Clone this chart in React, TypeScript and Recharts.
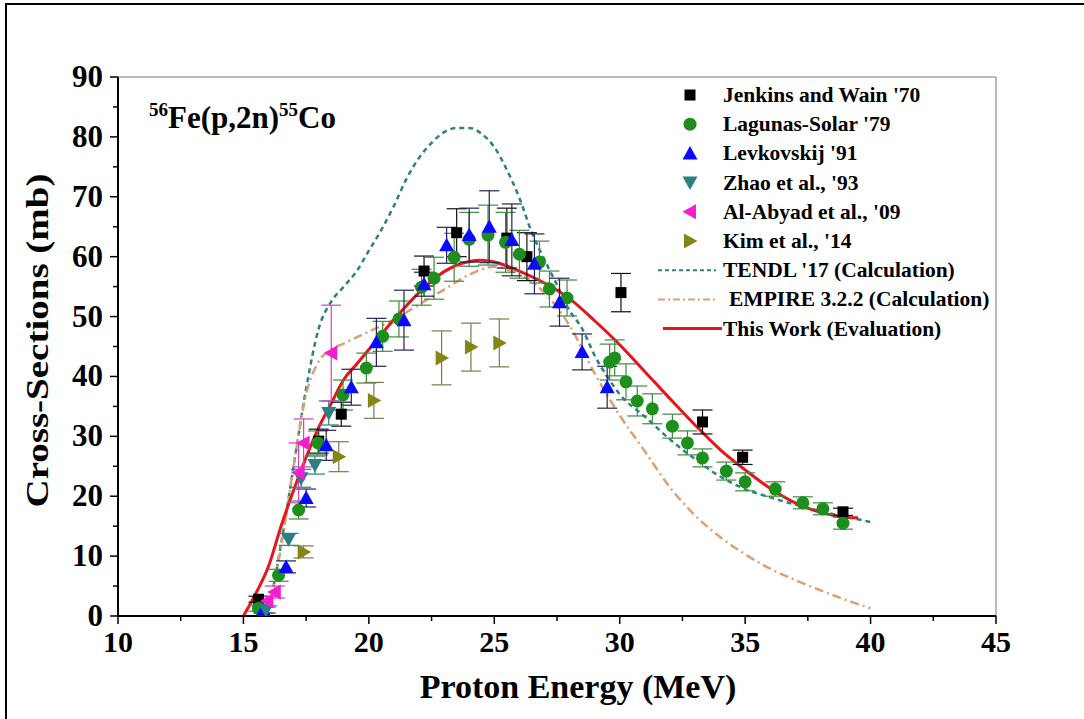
import { ComposedChart, ErrorBar, Line, ReferenceLine, Scatter, XAxis, YAxis } from "recharts";

const SERIF = '"Liberation Serif", "Times New Roman", serif';

// experimental data: proton energy (MeV), cross-section (mb), uncertainty (mb)
const jenkinsE = [15.6, 18.0, 18.9, 22.2, 23.5, 25.5, 26.3, 30.05, 33.3, 34.9, 38.9];
const jenkinsXs = [2.8, 29.2, 33.7, 57.6, 64.0, 63.1, 60.0, 54.0, 32.4, 26.5, 17.4];
const jenkinsErr = [0.5, 2, 2, 2.5, 4, 5, 4, 3.2, 2, 1.2, 0.6];

const lagunasE = [15.6, 16.4, 17.2, 17.97, 18.97, 19.9, 20.55, 21.2, 22.1, 22.6, 23.4, 24.0, 24.75, 25.45, 26.0, 26.8, 27.2, 27.9, 29.6, 29.8, 30.25, 30.7, 31.3, 32.1, 32.7, 33.3, 34.25, 35.0, 36.2, 37.3, 38.1, 38.9];
const lagunasXs = [1.3, 6.8, 17.7, 28.9, 36.9, 41.4, 46.7, 49.6, 54.9, 56.4, 59.9, 62.9, 63.6, 62.4, 60.4, 59.1, 54.6, 53.1, 42.4, 43.1, 39.1, 35.9, 34.6, 31.7, 28.9, 26.4, 24.2, 22.4, 21.2, 18.9, 17.9, 15.5];
const lagunasErr = [0.5, 1, 1.5, 2, 2.5, 2.5, 2.5, 3, 3, 3.5, 4, 4.5, 5, 5, 4, 3.5, 3, 3, 3, 3, 3, 2.5, 2.5, 2, 2, 1.5, 1.5, 1.5, 1.2, 1, 1, 1];

const levkovskijE = [15.8, 16.7, 17.5, 18.3, 19.3, 20.3, 21.4, 22.2, 23.1, 24.0, 24.8, 25.7, 26.6, 27.6, 28.5, 29.5];
const levkovskijXs = [1.0, 8.2, 19.7, 28.5, 38.2, 45.7, 49.4, 55.4, 61.9, 63.6, 65.0, 62.8, 58.8, 52.4, 44.1, 38.2];
const levkovskijErr = [0.5, 1, 1.5, 2.5, 3, 4, 5, 2, 3, 4.5, 6, 6, 5, 4, 3, 3.5];

const zhaoE = [15.9, 16.8, 17.3, 17.85, 18.4];
const zhaoXs = [1.0, 12.8, 23.0, 25.2, 33.9];
const zhaoErr = [0.5, 1, 1.5, 1.5, 2];

const alAbyadE = [15.95, 16.25, 17.2, 17.4, 18.5];
const alAbyadXs = [2.5, 4.0, 23.9, 28.9, 43.9];
const alAbyadErr = [0.8, 1, 5, 4, 8];

const kimE = [17.4, 18.8, 20.2, 22.9, 24.07, 25.2];
const kimXs = [10.7, 26.6, 36.0, 43.1, 44.9, 45.6];
const kimErr = [1, 2.5, 3, 4.5, 4, 4];

// calculations / evaluation
const tendlE = [15.5, 16, 16.5, 17, 17.5, 18, 18.5, 19, 19.5, 20, 20.5, 21, 21.5, 22, 22.5, 23, 23.5, 24, 24.5, 25, 25.5, 26, 26.5, 27, 27.5, 28, 28.5, 29, 29.5, 30, 31, 32, 33, 34, 35, 36, 37, 38, 39, 40];
const tendlXs = [0, 2, 12, 25, 38, 48, 52.5, 55, 57.5, 61, 64.5, 68.5, 73, 76.5, 79, 80.8, 81.5, 81.5, 80.5, 78.3, 74.5, 69.8, 64, 59.5, 55.3, 51, 48, 43.5, 40, 37, 33.3, 29.5, 26.2, 23.3, 21.2, 19.8, 18.6, 17.5, 16.6, 15.7];

const empireE = [15.8, 16.2, 16.6, 17, 17.5, 18, 18.5, 19, 20, 21, 22, 23, 24, 25, 26, 27, 28, 29, 30, 31, 32, 33, 34, 35, 36, 37, 38, 39, 40];
const empireXs = [0, 5, 14, 25, 37, 42.5, 44.5, 45.5, 47.5, 49.5, 52, 54.5, 57, 58.3, 57, 54, 48.5, 40.5, 33.5, 27.5, 21.5, 16.8, 13.2, 10.3, 7.9, 6.0, 4.3, 2.7, 1.3];

const evalE = [15, 15.5, 16, 16.5, 17, 17.5, 18, 18.5, 19, 19.5, 20, 21, 22, 23, 24, 24.5, 25, 26, 27, 28, 29, 30, 31, 32, 33, 34, 35, 36, 37, 38, 39, 39.5];
const evalXs = [0, 3.8, 8.3, 15, 21, 26.5, 31.5, 35.5, 39.5, 42, 44.5, 49.5, 54, 57.5, 59.2, 59.4, 59.1, 57.6, 55.6, 53, 49.3, 45.3, 40.8, 36.3, 31.9, 27.8, 24.4, 21.3, 18.9, 17.3, 16.5, 16.4];

const xTicks = [10, 12.5, 15, 17.5, 20, 22.5, 25, 27.5, 30, 32.5, 35, 37.5, 40, 42.5, 45];
const yTicks = [0, 5, 10, 15, 20, 25, 30, 35, 40, 45, 50, 55, 60, 65, 70, 75, 80, 85, 90];

const toPoints = (xs: number[], ys: number[], errs?: number[]) =>
  xs.map((x, i) => ({ x, y: ys[i], err: errs ? errs[i] : 0 }));

type ShapeProps = { cx?: number; cy?: number; fill?: string };

const squareShape = ({ cx = 0, cy = 0, fill }: ShapeProps) => (
  <rect x={cx - 5.5} y={cy - 5.5} width={11} height={11} fill={fill} />
);
const circleShape = ({ cx = 0, cy = 0, fill }: ShapeProps) => (
  <circle cx={cx} cy={cy} r={6.5} fill={fill} />
);
const triangleShape = (dir: "up" | "down" | "left" | "right") =>
  ({ cx = 0, cy = 0, fill }: ShapeProps) => {
    const s = 7.5;
    let pts = "";
    if (dir === "up") pts = `${cx},${cy - s} ${cx - s},${cy + s * 0.8} ${cx + s},${cy + s * 0.8}`;
    if (dir === "down") pts = `${cx},${cy + s} ${cx - s},${cy - s * 0.8} ${cx + s},${cy - s * 0.8}`;
    if (dir === "left") pts = `${cx - s},${cy} ${cx + s * 0.8},${cy - s} ${cx + s * 0.8},${cy + s}`;
    if (dir === "right") pts = `${cx + s},${cy} ${cx - s * 0.8},${cy - s} ${cx - s * 0.8},${cy + s}`;
    return <polygon points={pts} fill={fill} />;
  };

const series = [
  { name: "Jenkins and Wain '70", data: toPoints(jenkinsE, jenkinsXs, jenkinsErr), color: "#000000", bar: "#111111", shape: squareShape },
  { name: "Lagunas-Solar '79", data: toPoints(lagunasE, lagunasXs, lagunasErr), color: "#1d8f1d", bar: "#3d8a3d", shape: circleShape },
  { name: "Levkovskij '91", data: toPoints(levkovskijE, levkovskijXs, levkovskijErr), color: "#0a0aff", bar: "#22225a", shape: triangleShape("up") },
  { name: "Zhao et al., '93", data: toPoints(zhaoE, zhaoXs, zhaoErr), color: "#2a8080", bar: "#2a8080", shape: triangleShape("down") },
  { name: "Al-Abyad et al., '09", data: toPoints(alAbyadE, alAbyadXs, alAbyadErr), color: "#f21ed0", bar: "#d040c0", shape: triangleShape("left") },
  { name: "Kim et al., '14", data: toPoints(kimE, kimXs, kimErr), color: "#858514", bar: "#7a7a50", shape: triangleShape("right") },
];

const TENDL_COLOR = "#2f8080";
const EMPIRE_COLOR = "#d9a276";
const EVAL_COLOR = "#e8141c";

const XTick = ({ x, y, payload }: any) => {
  const v = payload.value;
  const major = v % 5 === 0;
  return (
    <g>
      <line x1={x} x2={x} y1={y} y2={y + (major ? 8 : 5)} stroke="#000" strokeWidth={1.5} />
      {major && (
        <text x={x} y={y + 36} textAnchor="middle" fontFamily={SERIF} fontWeight="bold" fontSize={30} fill="#000">
          {v}
        </text>
      )}
    </g>
  );
};

const YTick = ({ x, y, payload }: any) => {
  const v = payload.value;
  const major = v % 10 === 0;
  return (
    <g>
      <line x1={x - (major ? 8 : 5)} x2={x} y1={y} y2={y} stroke="#000" strokeWidth={1.5} />
      {major && (
        <text x={x - 15} y={y + 10} textAnchor="end" fontFamily={SERIF} fontWeight="bold" fontSize={31} fill="#000">
          {v}
        </text>
      )}
    </g>
  );
};

const LegendBox = () => {
  const rowY = (i: number) => 95 + i * 29.2;
  return (
    <svg width={360} height={300} style={{ position: "absolute", left: 640, top: 70 }} viewBox="640 70 360 300">
      {series.map((s, i) => (
        <g key={s.name}>
          {s.shape({ cx: 690, cy: rowY(i), fill: s.color })}
          <text x={723} y={rowY(i) + 7} fontFamily={SERIF} fontWeight="bold" fontSize={21.5}>
            {s.name}
          </text>
        </g>
      ))}
      <line x1={658} x2={716} y1={rowY(6)} y2={rowY(6)} stroke={TENDL_COLOR} strokeWidth={2} strokeDasharray="4 3" />
      <text x={723} y={rowY(6) + 7} fontFamily={SERIF} fontWeight="bold" fontSize={21.5}>TENDL '17 (Calculation)</text>
      <line x1={658} x2={716} y1={rowY(7)} y2={rowY(7)} stroke={EMPIRE_COLOR} strokeWidth={2} strokeDasharray="7 3 2 3" />
      <text x={729} y={rowY(7) + 7} fontFamily={SERIF} fontWeight="bold" fontSize={21.5}>EMPIRE 3.2.2 (Calculation)</text>
      <line x1={663} x2={722} y1={rowY(8)} y2={rowY(8)} stroke={EVAL_COLOR} strokeWidth={3} />
      <text x={723} y={rowY(8) + 7} fontFamily={SERIF} fontWeight="bold" fontSize={21.5}>This Work (Evaluation)</text>
    </svg>
  );
};

export default function App() {
  return (
    <div style={{ position: "absolute", left: 0, top: 0, width: 1084, height: 719, overflow: "hidden", background: "#fff" }}>
      <div style={{ position: "absolute", left: 5, top: 3, width: 1200, height: 800, borderLeft: "2px solid #000", borderTop: "2px solid #000" }} />
      <div style={{ position: "absolute", left: 0, top: 0 }}>
        <ComposedChart width={1084} height={719} margin={{ top: 77, right: 88, bottom: 43, left: 58 }}>
          <XAxis
            type="number"
            dataKey="x"
            domain={[10, 45]}
            ticks={xTicks}
            interval={0}
            tickSize={0}
            tickMargin={0}
            tickLine={false}
            height={60}
            axisLine={{ stroke: "#000", strokeWidth: 2 }}
            tick={<XTick />}
            allowDataOverflow
            label={(props: any) => {
              const vb = props.viewBox;
              return (
                <text x={vb.x + vb.width / 2 + 21} y={vb.y + 82} textAnchor="middle" fontFamily={SERIF} fontWeight="bold" fontSize={34}>
                  Proton Energy (MeV)
                </text>
              );
            }}
          />
          <YAxis
            type="number"
            domain={[0, 90]}
            ticks={yTicks}
            interval={0}
            tickSize={0}
            tickMargin={0}
            tickLine={false}
            width={60}
            axisLine={{ stroke: "#000", strokeWidth: 2 }}
            tick={<YTick />}
            allowDataOverflow
            label={(props: any) => {
              const vb = props.viewBox;
              const cx = vb.x - 10;
              const cy = vb.y + vb.height / 2 - 6;
              return (
                <text
                  x={cx}
                  y={cy}
                  transform={`rotate(-90 ${cx} ${cy})`}
                  textAnchor="middle"
                  fontFamily={SERIF}
                  fontWeight="bold"
                  fontSize={32}
                  textLength={334}
                  lengthAdjust="spacingAndGlyphs"
                >
                  Cross-Sections (mb)
                </text>
              );
            }}
          />
          <ReferenceLine y={90} stroke="#777" strokeWidth={1} />
          <ReferenceLine x={45} stroke="#777" strokeWidth={1} />
          <Line
            data={toPoints(tendlE, tendlXs)}
            dataKey="y"
            type="monotone"
            stroke={TENDL_COLOR}
            strokeWidth={2.5}
            strokeDasharray="5 4"
            dot={false}
            activeDot={false}
            isAnimationActive={false}
          />
          <Line
            data={toPoints(empireE, empireXs)}
            dataKey="y"
            type="monotone"
            stroke={EMPIRE_COLOR}
            strokeWidth={2.5}
            strokeDasharray="9 4 2 4"
            dot={false}
            activeDot={false}
            isAnimationActive={false}
          />
          <Line
            data={toPoints(evalE, evalXs)}
            dataKey="y"
            type="monotone"
            stroke={EVAL_COLOR}
            strokeWidth={3}
            dot={false}
            activeDot={false}
            isAnimationActive={false}
          />
          {series.map((s) => (
            <Scatter key={s.name} name={s.name} data={s.data} dataKey="y" fill={s.color} shape={s.shape} isAnimationActive={false}>
              <ErrorBar dataKey="err" direction="y" width={10} stroke={s.bar} strokeWidth={1.2} />
            </Scatter>
          ))}
        </ComposedChart>
      </div>
      <div
        style={{
          position: "absolute",
          left: 149,
          top: 102,
          fontFamily: SERIF,
          fontWeight: "bold",
          fontSize: 31,
          lineHeight: "31px",
          whiteSpace: "nowrap",
        }}
      >
        <span style={{ fontSize: 19, position: "relative", top: -12 }}>56</span>Fe(p,2n)
        <span style={{ fontSize: 19, position: "relative", top: -12 }}>55</span>Co
      </div>
      <LegendBox />
    </div>
  );
}
